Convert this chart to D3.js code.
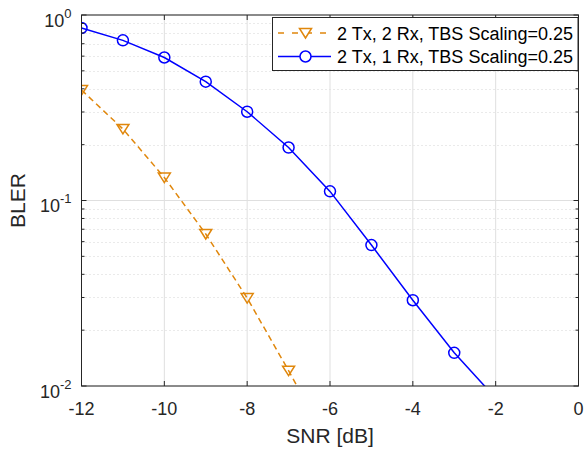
<!DOCTYPE html>
<html><head><meta charset="utf-8">
<script src="https://cdn.jsdelivr.net/npm/d3@7"></script>
<style>body{margin:0;background:#fff}svg{display:block}text{font-family:"Liberation Sans",Arial,sans-serif;fill:#262626}</style>
</head><body>
<script>
const snr = [-12,-11,-10,-9,-8,-7,-6,-5,-4,-3,-2];
const bler2Rx = [0.394,0.243,0.133,0.066,0.0298,0.0121,0.0047];
const bler1Rx = [0.851,0.73,0.59,0.437,0.301,0.193,0.112,0.0575,0.029,0.0151,0.0086];
const seriesNames = ["2 Tx, 2 Rx, TBS Scaling=0.25","2 Tx, 1 Rx, TBS Scaling=0.25"];
const xTicks = [-12,-10,-8,-6,-4,-2,0];
const yTicks = [1e-2,1e-1,1];

const W=588,H=453;
const m={l:81.5,r:9.5,t:15,b:67};
const svg=d3.select("body").append("svg").attr("width",W).attr("height",H);
const x=d3.scaleLinear().domain([-12,0]).range([m.l,W-m.r]);
const y=d3.scaleLog().domain([1e-2,1]).range([H-m.b,m.t]);
const x0=m.l,x1=W-m.r,y0=H-m.b,y1=m.t;

// minor grid
const minor=[];
for(let d=-2;d<0;d++)for(let k=2;k<10;k++)minor.push(k*Math.pow(10,d));
svg.append("g").selectAll("line").data(minor).join("line")
 .attr("x1",x0).attr("x2",x1).attr("y1",d=>Math.round(y(d))+0.5).attr("y2",d=>Math.round(y(d))+0.5)
 .attr("stroke","#d4d4d4").attr("stroke-width",1).attr("stroke-dasharray","1,3");
// major grid
svg.append("g").selectAll("line").data(yTicks).join("line")
 .attr("x1",x0).attr("x2",x1).attr("y1",d=>y(d)).attr("y2",d=>y(d))
 .attr("stroke","#dfdfdf").attr("stroke-width",1);
svg.append("g").selectAll("line").data(xTicks).join("line")
 .attr("x1",d=>x(d)).attr("x2",d=>x(d)).attr("y1",y0).attr("y2",y1)
 .attr("stroke","#dfdfdf").attr("stroke-width",1);

// clip
svg.append("clipPath").attr("id","clip").append("rect").attr("x",x0).attr("y",y1).attr("width",x1-x0).attr("height",y0-y1);
const g=svg.append("g").attr("clip-path","url(#clip)");
const orange="#E0870C", blue="#0000FF";
const d2=snr.slice(0,bler2Rx.length).map((s,i)=>[s,bler2Rx[i]]);
const d1=snr.map((s,i)=>[s,bler1Rx[i]]);
const line=d3.line().x(d=>x(d[0])).y(d=>y(d[1]));
g.append("path").attr("d",line(d2)).attr("fill","none").attr("stroke",orange).attr("stroke-width",1.5).attr("stroke-dasharray","6,4");
g.append("path").attr("d",line(d1)).attr("fill","none").attr("stroke",blue).attr("stroke-width",1.5);
const tri="M-6,-4.5L6,-4.5L0,5Z";
g.selectAll(".t").data(d2).join("path").attr("d",tri)
 .attr("transform",d=>`translate(${x(d[0])},${y(d[1])})`).attr("fill","none").attr("stroke",orange).attr("stroke-width",1.5);
g.selectAll(".c").data(d1).join("circle").attr("cx",d=>x(d[0])).attr("cy",d=>y(d[1])).attr("r",5.5)
 .attr("fill","none").attr("stroke",blue).attr("stroke-width",1.5);

// axes frame
const axc="#262626";
svg.append("rect").attr("x",x0).attr("y",y1).attr("width",x1-x0).attr("height",y0-y1).attr("fill","none").attr("stroke",axc).attr("stroke-width",1);
// ticks
const tl=5, fs=18;
xTicks.forEach(t=>{
 svg.append("line").attr("x1",x(t)).attr("x2",x(t)).attr("y1",y0).attr("y2",y0-tl).attr("stroke",axc);
 svg.append("line").attr("x1",x(t)).attr("x2",x(t)).attr("y1",y1).attr("y2",y1+tl).attr("stroke",axc);
 svg.append("text").attr("x",x(t)).attr("y",y0+29).attr("text-anchor","middle").attr("font-size",fs).text(t);
});
yTicks.forEach(t=>{
 svg.append("line").attr("x1",x0).attr("x2",x0+tl).attr("y1",y(t)).attr("y2",y(t)).attr("stroke",axc);
 svg.append("line").attr("x1",x1).attr("x2",x1-tl).attr("y1",y(t)).attr("y2",y(t)).attr("stroke",axc);
 const e=Math.round(Math.log10(t));
 const tx=svg.append("text").attr("x",x0-10).attr("y",y(t)+11.5).attr("text-anchor","end").attr("font-size",fs);
 tx.append("tspan").text("10");
 tx.append("tspan").attr("dy",-9).attr("font-size",13).text(e);
});
minor.forEach(t=>{
 svg.append("line").attr("x1",x0).attr("x2",x0+3).attr("y1",y(t)).attr("y2",y(t)).attr("stroke",axc);
 svg.append("line").attr("x1",x1).attr("x2",x1-3).attr("y1",y(t)).attr("y2",y(t)).attr("stroke",axc);
});
svg.append("text").attr("x",(x0+x1)/2).attr("y",443).attr("text-anchor","middle").attr("font-size",21).text("SNR [dB]");
svg.append("text").attr("transform",`translate(25,${(y0+y1)/2}) rotate(-90)`).attr("text-anchor","middle").attr("font-size",21).text("BLER");

// legend
const lg=svg.append("g");
const lx0=272.5,ly0=17.5,lw=305.5,lh=53;
lg.append("rect").attr("x",lx0).attr("y",ly0).attr("width",lw).attr("height",lh).attr("fill","#fff").attr("stroke",axc).attr("stroke-width",1);
const rows=[{y:33,c:orange,dash:"6,8",m:"tri"},{y:56.5,c:blue,dash:null,m:"circ"}];
rows.forEach((r,i)=>{
 const l=lg.append("line").attr("x1",278).attr("x2",331).attr("y1",r.y).attr("y2",r.y).attr("stroke",r.c).attr("stroke-width",1.5);
 if(r.dash)l.attr("stroke-dasharray",r.dash);
 if(r.m==="tri")lg.append("path").attr("d",tri).attr("transform",`translate(305.5,${r.y})`).attr("fill","#fff").attr("stroke",r.c).attr("stroke-width",1.5);
 else lg.append("circle").attr("cx",305.5).attr("cy",r.y).attr("r",5.5).attr("fill","#fff").attr("stroke",r.c).attr("stroke-width",1.5);
 lg.append("text").attr("x",337).attr("y",r.y+6.5).attr("font-size",fs).style("fill","#000").text(seriesNames[i]);
});
</script>
</body></html>
